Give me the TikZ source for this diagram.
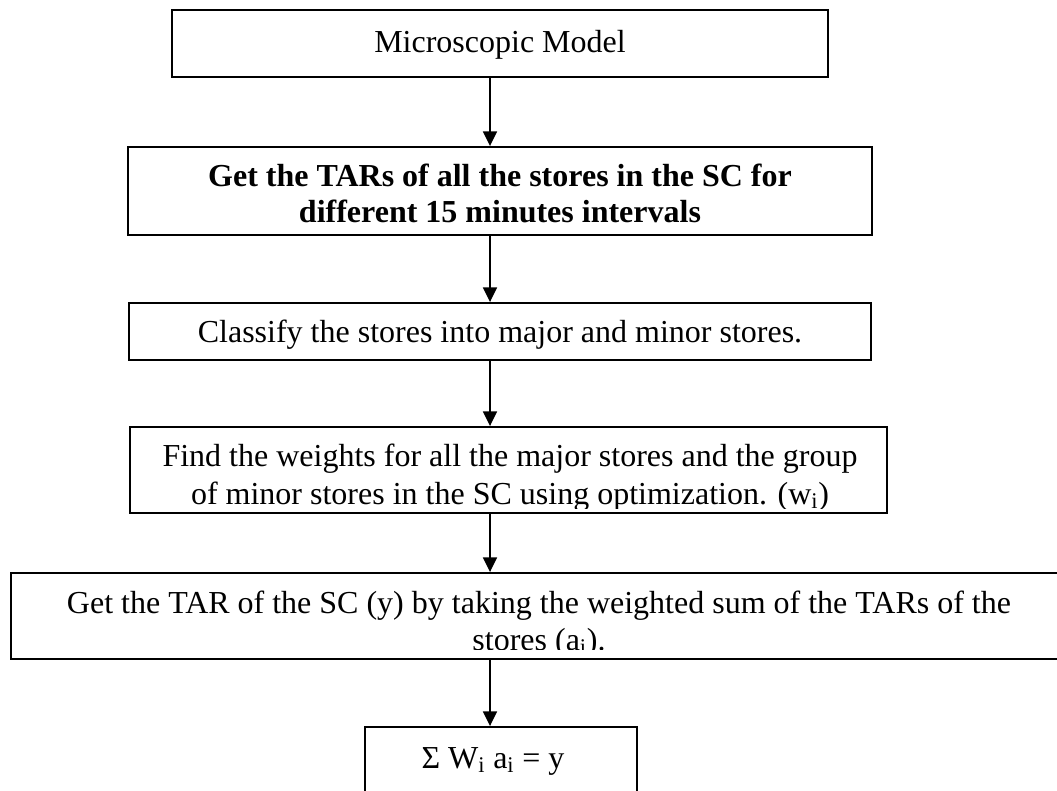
\documentclass[tikz,border=0pt]{standalone}
\usepackage{fontspec}
\setmainfont{Liberation Serif}
\usetikzlibrary{arrows.meta}
\begin{document}
\begin{tikzpicture}[x=0.75pt,y=-0.75pt,
  box/.style={draw=black, line width=1.4pt, rectangle, inner sep=0pt, fill=white},
  txt/.style={anchor=base, inner sep=0pt, font=\fontsize{24}{27}\selectfont},
  arr/.style={line width=1.3pt, -{Triangle[length=11pt,width=10.5pt]}}]
\useasboundingbox (0,0) rectangle (1057,791);
\fill[white] (0,0) rectangle (1057,791);

% process boxes
\node[box, minimum width=656*0.75pt, minimum height=67*0.75pt]  (b1) at (500,43.5) {};
\node[box, minimum width=744*0.75pt, minimum height=88*0.75pt]  (b2) at (500,191) {};
\node[box, minimum width=742*0.75pt, minimum height=57*0.75pt]  (b3) at (500,331.5) {};
\node[box, minimum width=757*0.75pt, minimum height=86*0.75pt]  (b4) at (508.5,470) {};
\node[box, minimum width=1056*0.75pt, minimum height=86*0.75pt] (b5) at (539,616) {};
\node[box, minimum width=272*0.75pt, minimum height=93*0.75pt]  (b6) at (501,773.5) {};

% box texts
\node[txt] (t1) at (500,53) {Microscopic Model};
\node[txt] (t2a) at (500,187) {\bfseries Get the TARs of all the stores in the SC for};
\node[txt] (t2b) at (500,223) {\bfseries different 15 minutes intervals};
\node[txt] (t3) at (500,343) {Classify the stores into major and minor stores.};
\begin{scope}
  \clip (b4.north west) rectangle ([yshift=4pt]b4.south east);
  \node[txt] (t4a) at (510,467) {Find the weights for all the major stores and the group};
  \node[txt] (t4b) at (510,504) {of minor stores in the SC using optimization. (w\textsubscript{i})};
\end{scope}
\begin{scope}
  \clip (b5.north west) rectangle ([yshift=8pt]b5.south east);
  \node[txt] (t5a) at (539,613) {Get the TAR of the SC (y) by taking the weighted sum of the TARs of the};
  \node[txt] (t5b) at (539,650) {stores (a\textsubscript{i}).};
\end{scope}
\node[txt] (t6) at (493,768) {Σ W\textsubscript{i} a\textsubscript{i} = y};

% connectors
\coordinate (ax) at (490,0);
\draw[arr] (b1.south -| ax) -- (b2.north -| ax);
\draw[arr] (b2.south -| ax) -- (b3.north -| ax);
\draw[arr] (b3.south -| ax) -- (b4.north -| ax);
\draw[arr] (b4.south -| ax) -- (b5.north -| ax);
\draw[arr] (b5.south -| ax) -- (b6.north -| ax);
\end{tikzpicture}
\end{document}
